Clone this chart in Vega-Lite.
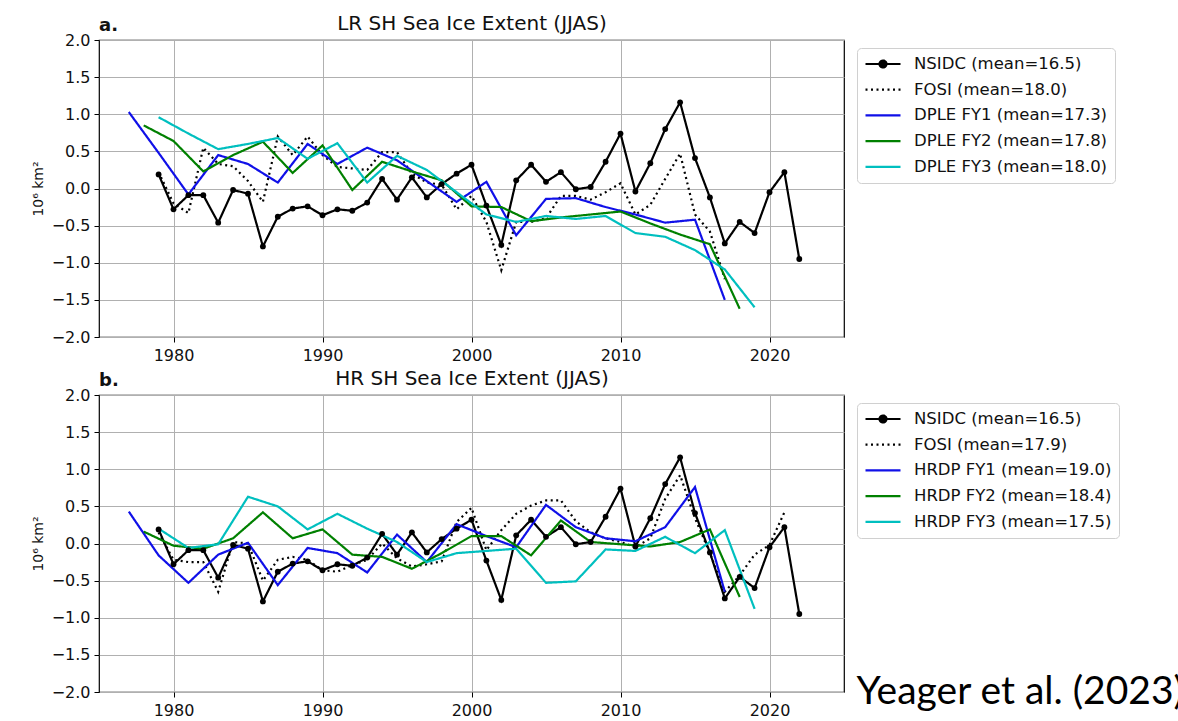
{
  "$schema": "https://vega.github.io/schema/vega-lite/v6.json",
  "background": "white",
  "padding": {"left": 30, "top": 12, "right": 0, "bottom": 0},
  "config": {
    "font": "DejaVu Sans",
    "view": {"stroke": "black", "strokeWidth": 1.2},
    "axis": {
      "labelFont": "DejaVu Sans", "labelFontSize": 16, "labelColor": "#111",
      "tickColor": "black", "tickSize": 5, "tickWidth": 1, "domain": false,
      "gridColor": "#b0b0b0", "gridWidth": 1, "gridOpacity": 1,
      "titleFont": "DejaVu Sans", "titleFontWeight": "normal", "titleColor": "#111",
      "labelPadding": 4
    },
    "legend": {
      "labelFont": "DejaVu Sans", "labelFontSize": 16.5, "labelColor": "#111",
      "symbolType": "stroke", "symbolSize": 1225, "symbolStrokeWidth": 2.2,
      "strokeColor": "#d0d0d0", "fillColor": "white", "cornerRadius": 4, "padding": 7,
      "clipHeight": 18, "rowPadding": 7.7, "labelOffset": 12, "labelLimit": 400
    },
    "concat": {"spacing": 3}
  },
  "data": {"values": [
    {"panel":"ab","series":"NSIDC","year":1979,"value":0.19},
    {"panel":"ab","series":"NSIDC","year":1980,"value":-0.28},
    {"panel":"ab","series":"NSIDC","year":1981,"value":-0.09},
    {"panel":"ab","series":"NSIDC","year":1982,"value":-0.09},
    {"panel":"ab","series":"NSIDC","year":1983,"value":-0.46},
    {"panel":"ab","series":"NSIDC","year":1984,"value":-0.02},
    {"panel":"ab","series":"NSIDC","year":1985,"value":-0.07},
    {"panel":"ab","series":"NSIDC","year":1986,"value":-0.78},
    {"panel":"ab","series":"NSIDC","year":1987,"value":-0.38},
    {"panel":"ab","series":"NSIDC","year":1988,"value":-0.27},
    {"panel":"ab","series":"NSIDC","year":1989,"value":-0.24},
    {"panel":"ab","series":"NSIDC","year":1990,"value":-0.36},
    {"panel":"ab","series":"NSIDC","year":1991,"value":-0.28},
    {"panel":"ab","series":"NSIDC","year":1992,"value":-0.30},
    {"panel":"ab","series":"NSIDC","year":1993,"value":-0.19},
    {"panel":"ab","series":"NSIDC","year":1994,"value":0.13},
    {"panel":"ab","series":"NSIDC","year":1995,"value":-0.15},
    {"panel":"ab","series":"NSIDC","year":1996,"value":0.15},
    {"panel":"ab","series":"NSIDC","year":1997,"value":-0.12},
    {"panel":"ab","series":"NSIDC","year":1998,"value":0.06},
    {"panel":"ab","series":"NSIDC","year":1999,"value":0.20},
    {"panel":"ab","series":"NSIDC","year":2000,"value":0.32},
    {"panel":"ab","series":"NSIDC","year":2001,"value":-0.23},
    {"panel":"ab","series":"NSIDC","year":2002,"value":-0.76},
    {"panel":"ab","series":"NSIDC","year":2003,"value":0.11},
    {"panel":"ab","series":"NSIDC","year":2004,"value":0.32},
    {"panel":"ab","series":"NSIDC","year":2005,"value":0.09},
    {"panel":"ab","series":"NSIDC","year":2006,"value":0.22},
    {"panel":"ab","series":"NSIDC","year":2007,"value":-0.01},
    {"panel":"ab","series":"NSIDC","year":2008,"value":0.02},
    {"panel":"ab","series":"NSIDC","year":2009,"value":0.36},
    {"panel":"ab","series":"NSIDC","year":2010,"value":0.74},
    {"panel":"ab","series":"NSIDC","year":2011,"value":-0.04},
    {"panel":"ab","series":"NSIDC","year":2012,"value":0.34},
    {"panel":"ab","series":"NSIDC","year":2013,"value":0.80},
    {"panel":"ab","series":"NSIDC","year":2014,"value":1.16},
    {"panel":"ab","series":"NSIDC","year":2015,"value":0.41},
    {"panel":"ab","series":"NSIDC","year":2016,"value":-0.12},
    {"panel":"ab","series":"NSIDC","year":2017,"value":-0.74},
    {"panel":"ab","series":"NSIDC","year":2018,"value":-0.45},
    {"panel":"ab","series":"NSIDC","year":2019,"value":-0.60},
    {"panel":"ab","series":"NSIDC","year":2020,"value":-0.05},
    {"panel":"ab","series":"NSIDC","year":2021,"value":0.22},
    {"panel":"ab","series":"NSIDC","year":2022,"value":-0.95},
    {"panel":"a","series":"FOSI","year":1979,"value":0.22},
    {"panel":"a","series":"FOSI","year":1980,"value":-0.20},
    {"panel":"a","series":"FOSI","year":1981,"value":-0.33},
    {"panel":"a","series":"FOSI","year":1982,"value":0.55},
    {"panel":"a","series":"FOSI","year":1983,"value":0.33},
    {"panel":"a","series":"FOSI","year":1984,"value":0.30},
    {"panel":"a","series":"FOSI","year":1985,"value":0.10},
    {"panel":"a","series":"FOSI","year":1986,"value":-0.18},
    {"panel":"a","series":"FOSI","year":1987,"value":0.70},
    {"panel":"a","series":"FOSI","year":1988,"value":0.45},
    {"panel":"a","series":"FOSI","year":1989,"value":0.70},
    {"panel":"a","series":"FOSI","year":1990,"value":0.45},
    {"panel":"a","series":"FOSI","year":1991,"value":0.29},
    {"panel":"a","series":"FOSI","year":1992,"value":0.27},
    {"panel":"a","series":"FOSI","year":1993,"value":0.25},
    {"panel":"a","series":"FOSI","year":1994,"value":0.49},
    {"panel":"a","series":"FOSI","year":1995,"value":0.49},
    {"panel":"a","series":"FOSI","year":1996,"value":0.20},
    {"panel":"a","series":"FOSI","year":1997,"value":0.08},
    {"panel":"a","series":"FOSI","year":1998,"value":0.05},
    {"panel":"a","series":"FOSI","year":1999,"value":-0.28},
    {"panel":"a","series":"FOSI","year":2000,"value":-0.10},
    {"panel":"a","series":"FOSI","year":2001,"value":-0.45},
    {"panel":"a","series":"FOSI","year":2002,"value":-1.10},
    {"panel":"a","series":"FOSI","year":2003,"value":-0.45},
    {"panel":"a","series":"FOSI","year":2004,"value":-0.45},
    {"panel":"a","series":"FOSI","year":2005,"value":-0.40},
    {"panel":"a","series":"FOSI","year":2006,"value":-0.10},
    {"panel":"a","series":"FOSI","year":2007,"value":-0.10},
    {"panel":"a","series":"FOSI","year":2008,"value":-0.15},
    {"panel":"a","series":"FOSI","year":2009,"value":-0.05},
    {"panel":"a","series":"FOSI","year":2010,"value":0.07},
    {"panel":"a","series":"FOSI","year":2011,"value":-0.35},
    {"panel":"a","series":"FOSI","year":2012,"value":-0.22},
    {"panel":"a","series":"FOSI","year":2013,"value":0.13},
    {"panel":"a","series":"FOSI","year":2014,"value":0.47},
    {"panel":"a","series":"FOSI","year":2015,"value":-0.35},
    {"panel":"a","series":"FOSI","year":2016,"value":-0.58},
    {"panel":"a","series":"FOSI","year":2017,"value":-1.22},
    {"panel":"a","series":"FY1","year":1977,"value":1.03},
    {"panel":"a","series":"FY1","year":1979,"value":0.48},
    {"panel":"a","series":"FY1","year":1981,"value":-0.08},
    {"panel":"a","series":"FY1","year":1983,"value":0.45},
    {"panel":"a","series":"FY1","year":1985,"value":0.33},
    {"panel":"a","series":"FY1","year":1987,"value":0.08},
    {"panel":"a","series":"FY1","year":1989,"value":0.60},
    {"panel":"a","series":"FY1","year":1991,"value":0.33},
    {"panel":"a","series":"FY1","year":1993,"value":0.55},
    {"panel":"a","series":"FY1","year":1995,"value":0.38},
    {"panel":"a","series":"FY1","year":1997,"value":0.10},
    {"panel":"a","series":"FY1","year":1999,"value":-0.18},
    {"panel":"a","series":"FY1","year":2001,"value":0.09},
    {"panel":"a","series":"FY1","year":2003,"value":-0.63},
    {"panel":"a","series":"FY1","year":2005,"value":-0.14},
    {"panel":"a","series":"FY1","year":2007,"value":-0.13},
    {"panel":"a","series":"FY1","year":2009,"value":-0.25},
    {"panel":"a","series":"FY1","year":2011,"value":-0.35},
    {"panel":"a","series":"FY1","year":2013,"value":-0.46},
    {"panel":"a","series":"FY1","year":2015,"value":-0.42},
    {"panel":"a","series":"FY1","year":2017,"value":-1.50},
    {"panel":"a","series":"FY2","year":1978,"value":0.85},
    {"panel":"a","series":"FY2","year":1980,"value":0.64},
    {"panel":"a","series":"FY2","year":1982,"value":0.23},
    {"panel":"a","series":"FY2","year":1984,"value":0.45},
    {"panel":"a","series":"FY2","year":1986,"value":0.63},
    {"panel":"a","series":"FY2","year":1988,"value":0.21},
    {"panel":"a","series":"FY2","year":1990,"value":0.58},
    {"panel":"a","series":"FY2","year":1992,"value":-0.02},
    {"panel":"a","series":"FY2","year":1994,"value":0.36},
    {"panel":"a","series":"FY2","year":1996,"value":0.23},
    {"panel":"a","series":"FY2","year":1998,"value":0.11},
    {"panel":"a","series":"FY2","year":2000,"value":-0.24},
    {"panel":"a","series":"FY2","year":2002,"value":-0.25},
    {"panel":"a","series":"FY2","year":2004,"value":-0.44},
    {"panel":"a","series":"FY2","year":2006,"value":-0.39},
    {"panel":"a","series":"FY2","year":2008,"value":-0.35},
    {"panel":"a","series":"FY2","year":2010,"value":-0.31},
    {"panel":"a","series":"FY2","year":2012,"value":-0.47},
    {"panel":"a","series":"FY2","year":2014,"value":-0.62},
    {"panel":"a","series":"FY2","year":2016,"value":-0.75},
    {"panel":"a","series":"FY2","year":2018,"value":-1.62},
    {"panel":"a","series":"FY3","year":1979,"value":0.96},
    {"panel":"a","series":"FY3","year":1981,"value":0.74},
    {"panel":"a","series":"FY3","year":1983,"value":0.53},
    {"panel":"a","series":"FY3","year":1985,"value":0.60},
    {"panel":"a","series":"FY3","year":1987,"value":0.68},
    {"panel":"a","series":"FY3","year":1989,"value":0.40},
    {"panel":"a","series":"FY3","year":1991,"value":0.61},
    {"panel":"a","series":"FY3","year":1993,"value":0.08},
    {"panel":"a","series":"FY3","year":1995,"value":0.44},
    {"panel":"a","series":"FY3","year":1997,"value":0.25},
    {"panel":"a","series":"FY3","year":1999,"value":-0.05},
    {"panel":"a","series":"FY3","year":2001,"value":-0.35},
    {"panel":"a","series":"FY3","year":2003,"value":-0.45},
    {"panel":"a","series":"FY3","year":2005,"value":-0.37},
    {"panel":"a","series":"FY3","year":2007,"value":-0.41},
    {"panel":"a","series":"FY3","year":2009,"value":-0.37},
    {"panel":"a","series":"FY3","year":2011,"value":-0.60},
    {"panel":"a","series":"FY3","year":2013,"value":-0.65},
    {"panel":"a","series":"FY3","year":2015,"value":-0.83},
    {"panel":"a","series":"FY3","year":2017,"value":-1.09},
    {"panel":"a","series":"FY3","year":2019,"value":-1.60},
    {"panel":"b","series":"FOSI","year":1979,"value":0.15},
    {"panel":"b","series":"FOSI","year":1980,"value":-0.22},
    {"panel":"b","series":"FOSI","year":1981,"value":-0.25},
    {"panel":"b","series":"FOSI","year":1982,"value":-0.25},
    {"panel":"b","series":"FOSI","year":1983,"value":-0.65},
    {"panel":"b","series":"FOSI","year":1984,"value":0.02},
    {"panel":"b","series":"FOSI","year":1985,"value":0.00},
    {"panel":"b","series":"FOSI","year":1986,"value":-0.50},
    {"panel":"b","series":"FOSI","year":1987,"value":-0.22},
    {"panel":"b","series":"FOSI","year":1988,"value":-0.18},
    {"panel":"b","series":"FOSI","year":1989,"value":-0.22},
    {"panel":"b","series":"FOSI","year":1990,"value":-0.36},
    {"panel":"b","series":"FOSI","year":1991,"value":-0.38},
    {"panel":"b","series":"FOSI","year":1992,"value":-0.29},
    {"panel":"b","series":"FOSI","year":1993,"value":-0.22},
    {"panel":"b","series":"FOSI","year":1994,"value":0.00},
    {"panel":"b","series":"FOSI","year":1995,"value":-0.20},
    {"panel":"b","series":"FOSI","year":1996,"value":-0.31},
    {"panel":"b","series":"FOSI","year":1997,"value":-0.28},
    {"panel":"b","series":"FOSI","year":1998,"value":-0.24},
    {"panel":"b","series":"FOSI","year":1999,"value":0.29},
    {"panel":"b","series":"FOSI","year":2000,"value":0.48},
    {"panel":"b","series":"FOSI","year":2001,"value":-0.09},
    {"panel":"b","series":"FOSI","year":2002,"value":0.18},
    {"panel":"b","series":"FOSI","year":2003,"value":0.40},
    {"panel":"b","series":"FOSI","year":2004,"value":0.51},
    {"panel":"b","series":"FOSI","year":2005,"value":0.58},
    {"panel":"b","series":"FOSI","year":2006,"value":0.58},
    {"panel":"b","series":"FOSI","year":2007,"value":0.30},
    {"panel":"b","series":"FOSI","year":2008,"value":0.15},
    {"panel":"b","series":"FOSI","year":2009,"value":0.07},
    {"panel":"b","series":"FOSI","year":2010,"value":0.02},
    {"panel":"b","series":"FOSI","year":2011,"value":-0.05},
    {"panel":"b","series":"FOSI","year":2012,"value":0.07},
    {"panel":"b","series":"FOSI","year":2013,"value":0.60},
    {"panel":"b","series":"FOSI","year":2014,"value":0.92},
    {"panel":"b","series":"FOSI","year":2015,"value":0.34},
    {"panel":"b","series":"FOSI","year":2016,"value":-0.13},
    {"panel":"b","series":"FOSI","year":2017,"value":-0.65},
    {"panel":"b","series":"FOSI","year":2018,"value":-0.43},
    {"panel":"b","series":"FOSI","year":2019,"value":-0.15},
    {"panel":"b","series":"FOSI","year":2020,"value":-0.02},
    {"panel":"b","series":"FOSI","year":2021,"value":0.42},
    {"panel":"b","series":"FY1","year":1977,"value":0.43},
    {"panel":"b","series":"FY1","year":1979,"value":-0.16},
    {"panel":"b","series":"FY1","year":1981,"value":-0.53},
    {"panel":"b","series":"FY1","year":1983,"value":-0.15},
    {"panel":"b","series":"FY1","year":1985,"value":0.01},
    {"panel":"b","series":"FY1","year":1987,"value":-0.56},
    {"panel":"b","series":"FY1","year":1989,"value":-0.06},
    {"panel":"b","series":"FY1","year":1991,"value":-0.13},
    {"panel":"b","series":"FY1","year":1993,"value":-0.39},
    {"panel":"b","series":"FY1","year":1995,"value":0.12},
    {"panel":"b","series":"FY1","year":1997,"value":-0.25},
    {"panel":"b","series":"FY1","year":1999,"value":0.26},
    {"panel":"b","series":"FY1","year":2001,"value":0.10},
    {"panel":"b","series":"FY1","year":2003,"value":-0.05},
    {"panel":"b","series":"FY1","year":2005,"value":0.52},
    {"panel":"b","series":"FY1","year":2007,"value":0.22},
    {"panel":"b","series":"FY1","year":2009,"value":0.07},
    {"panel":"b","series":"FY1","year":2011,"value":0.03},
    {"panel":"b","series":"FY1","year":2013,"value":0.22},
    {"panel":"b","series":"FY1","year":2015,"value":0.76},
    {"panel":"b","series":"FY1","year":2017,"value":-0.65},
    {"panel":"b","series":"FY2","year":1978,"value":0.16},
    {"panel":"b","series":"FY2","year":1980,"value":-0.03},
    {"panel":"b","series":"FY2","year":1982,"value":-0.07},
    {"panel":"b","series":"FY2","year":1984,"value":0.07},
    {"panel":"b","series":"FY2","year":1986,"value":0.42},
    {"panel":"b","series":"FY2","year":1988,"value":0.07},
    {"panel":"b","series":"FY2","year":1990,"value":0.19},
    {"panel":"b","series":"FY2","year":1992,"value":-0.15},
    {"panel":"b","series":"FY2","year":1994,"value":-0.18},
    {"panel":"b","series":"FY2","year":1996,"value":-0.34},
    {"panel":"b","series":"FY2","year":1998,"value":-0.13},
    {"panel":"b","series":"FY2","year":2000,"value":0.10},
    {"panel":"b","series":"FY2","year":2002,"value":0.10},
    {"panel":"b","series":"FY2","year":2004,"value":-0.16},
    {"panel":"b","series":"FY2","year":2006,"value":0.31},
    {"panel":"b","series":"FY2","year":2008,"value":0.02},
    {"panel":"b","series":"FY2","year":2010,"value":-0.01},
    {"panel":"b","series":"FY2","year":2012,"value":-0.04},
    {"panel":"b","series":"FY2","year":2014,"value":0.02},
    {"panel":"b","series":"FY2","year":2016,"value":0.19},
    {"panel":"b","series":"FY2","year":2018,"value":-0.72},
    {"panel":"b","series":"FY3","year":1979,"value":0.20},
    {"panel":"b","series":"FY3","year":1981,"value":-0.06},
    {"panel":"b","series":"FY3","year":1983,"value":-0.01},
    {"panel":"b","series":"FY3","year":1985,"value":0.63},
    {"panel":"b","series":"FY3","year":1987,"value":0.50},
    {"panel":"b","series":"FY3","year":1989,"value":0.19},
    {"panel":"b","series":"FY3","year":1991,"value":0.40},
    {"panel":"b","series":"FY3","year":1993,"value":0.20},
    {"panel":"b","series":"FY3","year":1995,"value":0.02},
    {"panel":"b","series":"FY3","year":1997,"value":-0.25},
    {"panel":"b","series":"FY3","year":1999,"value":-0.13},
    {"panel":"b","series":"FY3","year":2001,"value":-0.10},
    {"panel":"b","series":"FY3","year":2003,"value":-0.07},
    {"panel":"b","series":"FY3","year":2005,"value":-0.53},
    {"panel":"b","series":"FY3","year":2007,"value":-0.51},
    {"panel":"b","series":"FY3","year":2009,"value":-0.08},
    {"panel":"b","series":"FY3","year":2011,"value":-0.10},
    {"panel":"b","series":"FY3","year":2013,"value":0.09},
    {"panel":"b","series":"FY3","year":2015,"value":-0.13},
    {"panel":"b","series":"FY3","year":2017,"value":0.18},
    {"panel":"b","series":"FY3","year":2019,"value":-0.88}
  ]},
  "vconcat": [
    {
      "width": 745, "height": 297,
      "title": {"text": "a.", "anchor": "start", "frame": "group", "fontWeight": "bold", "fontSize": 18, "font": "DejaVu Sans", "offset": -22, "color": "#111"},
      "transform": [{"filter": "indexof(datum.panel, 'a') >= 0"}],
      "encoding": {
        "x": {"field": "year", "type": "quantitative", "scale": {"domain": [1975, 2025], "nice": false, "zero": false},
              "axis": {"values": [1980, 1990, 2000, 2010, 2020], "format": "d", "title": null, "grid": true, "labelPadding": 5, "labelFlush": false}},
        "y": {"field": "value", "type": "quantitative", "scale": {"domain": [-2, 2], "nice": false, "zero": false},
              "axis": {"values": [-2, -1.5, -1, -0.5, 0, 0.5, 1, 1.5, 2], "format": ".1f", "title": "10⁶ km²", "titleFontSize": 14, "titlePadding": 6, "grid": true, "labelFlush": false, "labelOverlap": false}}
      },
      "layer": [
        {
          "mark": {"type": "line", "strokeWidth": 2.2, "clip": true},
          "encoding": {
            "color": {"field": "series", "type": "nominal",
              "scale": {"domain": ["NSIDC", "FOSI", "FY1", "FY2", "FY3"], "range": ["#000000", "#000000", "#1010e8", "#008000", "#00bfbf"]},
              "legend": {"title": null, "orient": "none", "legendX": 758, "legendY": 8,
                "labelExpr": "{'NSIDC': 'NSIDC (mean=16.5)', 'FOSI': 'FOSI (mean=18.0)', 'FY1': 'DPLE FY1 (mean=17.3)', 'FY2': 'DPLE FY2 (mean=17.8)', 'FY3': 'DPLE FY3 (mean=18.0)'}[datum.label]",
                "encode": {"symbols": {"update": {
                  "shape": {"signal": "datum.value === 'NSIDC' ? 'M-1,0L1,0M0.2,0A0.2,0.2,0,1,1,-0.2,0A0.2,0.2,0,1,1,0.2,0Z' : 'stroke'"},
                  "fill": {"signal": "datum.value === 'NSIDC' ? 'black' : 'transparent'"}}}}}},
            "strokeDash": {"field": "series", "type": "nominal",
              "scale": {"domain": ["NSIDC", "FOSI", "FY1", "FY2", "FY3"], "range": [[1, 0], [2, 3.5], [1, 0], [1, 0], [1, 0]]},
              "legend": {"title": null, "orient": "none", "legendX": 758, "legendY": 8,
                "labelExpr": "{'NSIDC': 'NSIDC (mean=16.5)', 'FOSI': 'FOSI (mean=18.0)', 'FY1': 'DPLE FY1 (mean=17.3)', 'FY2': 'DPLE FY2 (mean=17.8)', 'FY3': 'DPLE FY3 (mean=18.0)'}[datum.label]",
                "encode": {"symbols": {"update": {
                  "shape": {"signal": "datum.value === 'NSIDC' ? 'M-1,0L1,0M0.2,0A0.2,0.2,0,1,1,-0.2,0A0.2,0.2,0,1,1,0.2,0Z' : 'stroke'"},
                  "fill": {"signal": "datum.value === 'NSIDC' ? 'black' : 'transparent'"}}}}}}
          }
        },
        {
          "transform": [{"filter": "datum.series === 'NSIDC'"}],
          "mark": {"type": "point", "filled": true, "size": 34, "color": "black", "opacity": 1},
          "encoding": {
            "x": {"field": "year", "type": "quantitative",
                  "axis": {"orient": "top", "title": "LR SH Sea Ice Extent (JJAS)", "titleFontSize": 20, "titlePadding": 7, "labels": false, "ticks": false, "domain": false, "grid": false}}
          }
        }
      ],
      "resolve": {"axis": {"x": "independent"}}
    },
    {
      "width": 745, "height": 297,
      "title": {"text": "b.", "anchor": "start", "frame": "group", "fontWeight": "bold", "fontSize": 18, "font": "DejaVu Sans", "offset": -22, "color": "#111"},
      "transform": [{"filter": "indexof(datum.panel, 'b') >= 0"}],
      "encoding": {
        "x": {"field": "year", "type": "quantitative", "scale": {"domain": [1975, 2025], "nice": false, "zero": false},
              "axis": {"values": [1980, 1990, 2000, 2010, 2020], "format": "d", "title": null, "grid": true, "labelPadding": 5, "labelFlush": false}},
        "y": {"field": "value", "type": "quantitative", "scale": {"domain": [-2, 2], "nice": false, "zero": false},
              "axis": {"values": [-2, -1.5, -1, -0.5, 0, 0.5, 1, 1.5, 2], "format": ".1f", "title": "10⁶ km²", "titleFontSize": 14, "titlePadding": 6, "grid": true, "labelFlush": false, "labelOverlap": false}}
      },
      "layer": [
        {
          "mark": {"type": "line", "strokeWidth": 2.2, "clip": true},
          "encoding": {
            "color": {"field": "series", "type": "nominal",
              "scale": {"domain": ["NSIDC", "FOSI", "FY1", "FY2", "FY3"], "range": ["#000000", "#000000", "#1010e8", "#008000", "#00bfbf"]},
              "legend": {"title": null, "orient": "none", "legendX": 758, "legendY": 8,
                "labelExpr": "{'NSIDC': 'NSIDC (mean=16.5)', 'FOSI': 'FOSI (mean=17.9)', 'FY1': 'HRDP FY1 (mean=19.0)', 'FY2': 'HRDP FY2 (mean=18.4)', 'FY3': 'HRDP FY3 (mean=17.5)'}[datum.label]",
                "encode": {"symbols": {"update": {
                  "shape": {"signal": "datum.value === 'NSIDC' ? 'M-1,0L1,0M0.2,0A0.2,0.2,0,1,1,-0.2,0A0.2,0.2,0,1,1,0.2,0Z' : 'stroke'"},
                  "fill": {"signal": "datum.value === 'NSIDC' ? 'black' : 'transparent'"}}}}}},
            "strokeDash": {"field": "series", "type": "nominal",
              "scale": {"domain": ["NSIDC", "FOSI", "FY1", "FY2", "FY3"], "range": [[1, 0], [2, 3.5], [1, 0], [1, 0], [1, 0]]},
              "legend": {"title": null, "orient": "none", "legendX": 758, "legendY": 8,
                "labelExpr": "{'NSIDC': 'NSIDC (mean=16.5)', 'FOSI': 'FOSI (mean=17.9)', 'FY1': 'HRDP FY1 (mean=19.0)', 'FY2': 'HRDP FY2 (mean=18.4)', 'FY3': 'HRDP FY3 (mean=17.5)'}[datum.label]",
                "encode": {"symbols": {"update": {
                  "shape": {"signal": "datum.value === 'NSIDC' ? 'M-1,0L1,0M0.2,0A0.2,0.2,0,1,1,-0.2,0A0.2,0.2,0,1,1,0.2,0Z' : 'stroke'"},
                  "fill": {"signal": "datum.value === 'NSIDC' ? 'black' : 'transparent'"}}}}}}
          }
        },
        {
          "transform": [{"filter": "datum.series === 'NSIDC'"}],
          "mark": {"type": "point", "filled": true, "size": 34, "color": "black", "opacity": 1},
          "encoding": {
            "x": {"field": "year", "type": "quantitative",
                  "axis": {"orient": "top", "title": "HR SH Sea Ice Extent (JJAS)", "titleFontSize": 20, "titlePadding": 7, "labels": false, "ticks": false, "domain": false, "grid": false}}
          }
        }
      ],
      "resolve": {"axis": {"x": "independent"}}
    }
  ],
  "resolve": {"scale": {"color": "independent", "strokeDash": "independent"}},
  "title": {"text": "Yeager et al. (2023)", "orient": "bottom", "anchor": "start", "font": "Lato", "fontSize": 39, "fontWeight": "normal", "color": "black", "dx": 826, "dy": -46, "offset": 0}
}
